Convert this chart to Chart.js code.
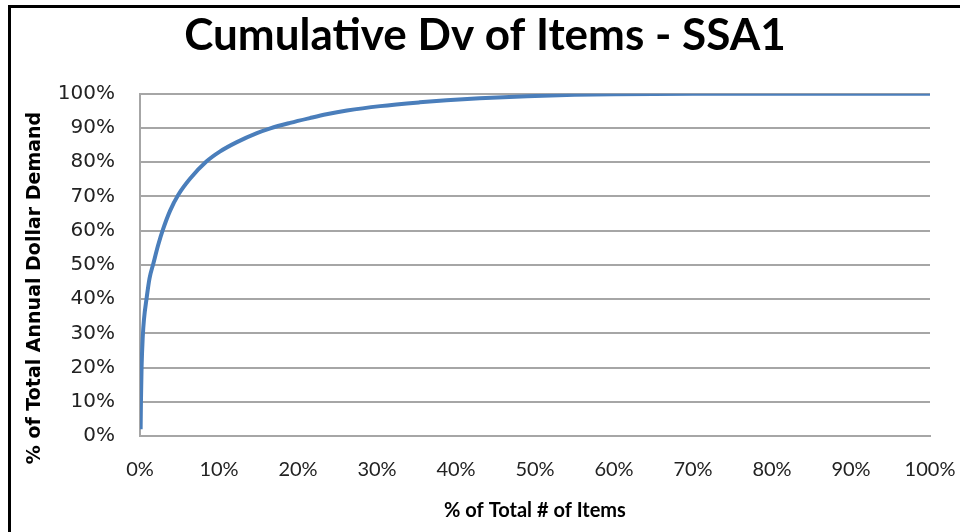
<!DOCTYPE html>
<html>
<head>
<meta charset="utf-8">
<script src="https://cdn.jsdelivr.net/npm/chart.js@4/dist/chart.umd.min.js"></script>
<style>
    html, body { margin: 0; padding: 0; background: #fff; }
    #wrap { position: relative; width: 960px; height: 532px; overflow: hidden; }
    #frame {
        position: absolute; left: 8px; top: 5px; width: 1000px; height: 600px;
        border-top: 3px solid #000; border-left: 3px solid #000; pointer-events: none;
    }
</style>
</head>
<body>
<div id="wrap">
    <canvas id="chart" width="960" height="532"></canvas>
    <div id="frame"></div>
</div>
<script>
// % of total # of items (x) vs cumulative % of annual dollar demand (y)
const itemPct = [0.08, 0.12, 0.2, 0.35, 0.5, 0.85, 1.2, 1.7, 2.3, 2.9, 3.8, 4.85, 6.3, 8.4, 10.1, 12.2, 14.8, 16.5, 19, 21.5, 23.6, 26.2, 30.4, 35.4, 38.8, 43, 49, 55, 60, 70, 80, 90, 100];
const demandPct = [2, 10, 20, 29, 34, 40.5, 46, 50.5, 55.8, 60.3, 65.8, 70.5, 75.1, 80.2, 83.1, 85.8, 88.5, 89.9, 91.5, 92.9, 94.0, 95.1, 96.4, 97.5, 98.1, 98.7, 99.3, 99.7, 99.9, 100, 100, 100, 100];

const chartTitle = 'Cumulative Dv of Items - SSA1';
const xTitle = '% of Total # of Items';
const yTitle = '% of Total Annual Dollar Demand';

const gridGray = '#a6a6a6';
const pct = v => v + '%';

new Chart(document.getElementById('chart'), {
    type: 'line',
    data: {
        datasets: [{
            data: itemPct.map((x, i) => ({ x: x, y: demandPct[i] })),
            borderColor: '#4a7ebb',
            borderWidth: 4,
            pointRadius: 0,
            cubicInterpolationMode: 'monotone',
            fill: false
        }]
    },
    options: {
        responsive: false,
        animation: false,
        devicePixelRatio: 1,
        layout: { padding: { left: 10, right: 0, top: 0, bottom: 0 } },
        plugins: {
            legend: { display: false },
            tooltip: { enabled: false },
            title: {
                display: true,
                text: chartTitle,
                color: '#000',
                font: { family: 'Lato', size: 44, weight: 'bold' },
                padding: { top: 9, bottom: 32 }
            }
        },
        scales: {
            x: {
                type: 'linear',
                min: 0,
                max: 100,
                grid: { display: false, drawTicks: false },
                border: { display: true, color: gridGray, width: 2 },
                ticks: {
                    stepSize: 10,
                    padding: 22,
                    color: '#222',
                    font: { family: 'Lato', size: 20 },
                    callback: pct
                },
                title: {
                    display: true,
                    text: xTitle,
                    color: '#000',
                    font: { family: 'Lato', size: 20, weight: 'bold' },
                    padding: { top: 0, bottom: 9 }
                },
                afterFit: s => { s.height = 96; s.paddingRight = 30; s.paddingLeft = 0; }
            },
            y: {
                min: 0,
                max: 100,
                grid: { color: gridGray, lineWidth: 2, drawTicks: false },
                border: { display: true, color: gridGray, width: 2 },
                ticks: {
                    stepSize: 10,
                    padding: 25,
                    color: '#222',
                    font: { family: 'DejaVu Sans', size: 20 },
                    callback: pct
                },
                title: {
                    display: true,
                    text: yTitle + '\u00a0\u00a0\u00a0\u00a0\u00a0\u00a0\u00a0',
                    color: '#000',
                    font: { family: 'DejaVu Sans', size: 19, weight: 'bold' },
                    padding: { top: 14, bottom: 0 }
                },
                afterFit: s => { s.width = 130; s.paddingTop = 0; s.paddingBottom = 0; }
            }
        }
    }
});
</script>
</body>
</html>
